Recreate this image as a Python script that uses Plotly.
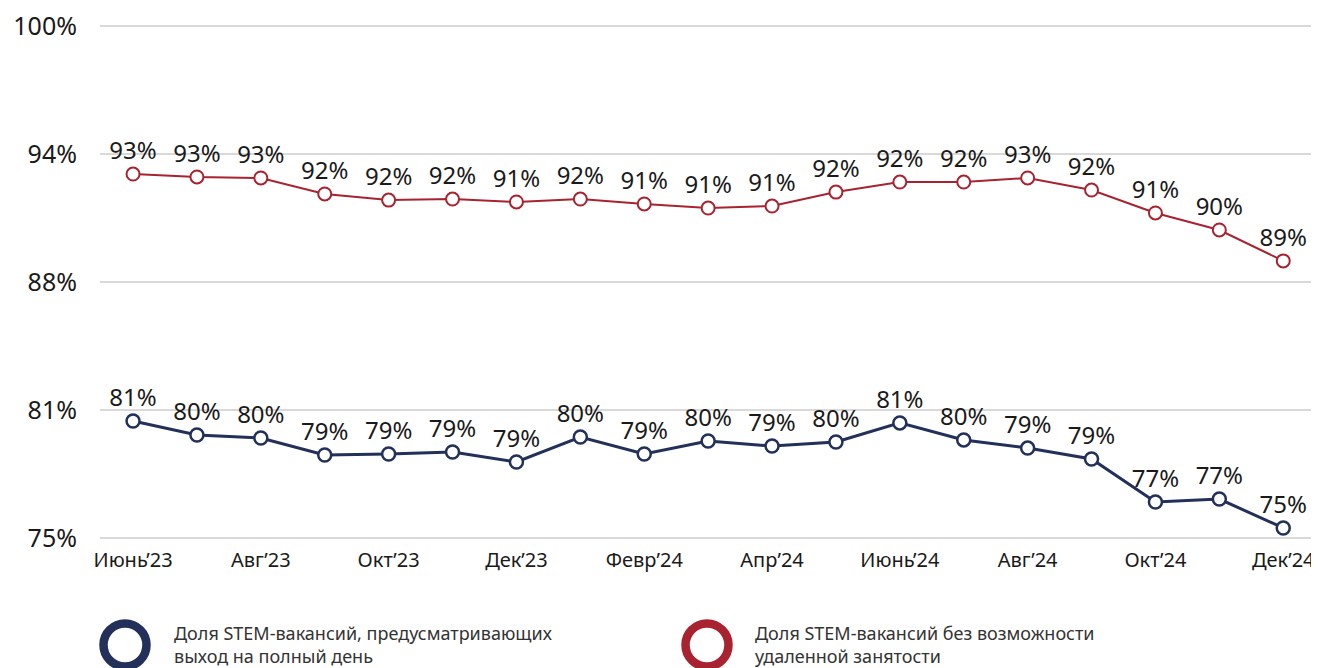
import plotly.graph_objects as go

months = ["Июнь’23", "Июль’23", "Авг’23", "Сент’23", "Окт’23", "Нояб’23", "Дек’23",
          "Янв’24", "Февр’24", "Март’24", "Апр’24", "Май’24", "Июнь’24", "Июль’24",
          "Авг’24", "Сент’24", "Окт’24", "Нояб’24", "Дек’24"]

no_remote = [92.77, 92.63, 92.58, 91.80, 91.50, 91.55, 91.41, 91.55, 91.31, 91.11,
             91.21, 91.89, 92.38, 92.38, 92.58, 91.99, 90.87, 90.04, 88.53]
no_remote_labels = ["93%", "93%", "93%", "92%", "92%", "92%", "91%", "92%", "91%", "91%",
                    "91%", "92%", "92%", "92%", "93%", "92%", "91%", "90%", "89%"]

full_day = [80.71, 80.03, 79.88, 79.05, 79.10, 79.20, 78.71, 79.93, 79.10, 79.74,
            79.49, 79.69, 80.62, 79.79, 79.39, 78.86, 76.76, 76.90, 75.49]
full_day_labels = ["81%", "80%", "80%", "79%", "79%", "79%", "79%", "80%", "79%", "80%",
                   "79%", "80%", "81%", "80%", "79%", "79%", "77%", "77%", "75%"]

y_ticks = [75, 81.25, 87.5, 93.75, 100]
y_tick_text = ["75%", "81%", "88%", "94%", "100%"]

legend_names = ["Доля STEM-вакансий, предусматривающих<br>выход на полный день",
                "Доля STEM-вакансий без возможности<br>удаленной занятости"]

NAVY = "#22305a"
RED = "#a8232f"
FONT = "Noto Sans"

x_idx = list(range(len(months)))

fig = go.Figure()
fig.add_trace(go.Scatter(
    x=x_idx, y=no_remote, mode="lines+markers+text",
    text=no_remote_labels, textposition="top center",
    textfont=dict(family=FONT, size=24, color="#1a1a1a"),
    line=dict(color=RED, width=2),
    marker=dict(size=13, color="white", line=dict(color=RED, width=2)),
    showlegend=False, cliponaxis=False,
))
fig.add_trace(go.Scatter(
    x=x_idx, y=full_day, mode="lines+markers+text",
    text=full_day_labels, textposition="top center",
    textfont=dict(family=FONT, size=24, color="#1a1a1a"),
    line=dict(color=NAVY, width=3),
    marker=dict(size=13, color="white", line=dict(color=NAVY, width=2.5)),
    showlegend=False, cliponaxis=False,
))

# page body has an 8px offset; figure pixel = screen pixel - 8
OFF = 8
W, H = 1311, 660
L, T, B = 92, 16, 128
R = W - (1312 - OFF)
pw, ph = W - L - R, H - T - B

def px_x(p):
    return (p - OFF - L) / pw

def px_y(p):
    return (H - B - (p - OFF)) / ph

shapes = []
annotations = []
for cx, color, name, tx in [(125, NAVY, legend_names[0], 172), (707, RED, legend_names[1], 753)]:
    r = 21.5
    shapes.append(dict(type="circle", xref="paper", yref="paper",
                       x0=px_x(cx - r), x1=px_x(cx + r), y0=px_y(645 + r), y1=px_y(645 - r),
                       line=dict(color=color, width=8.5), fillcolor="rgba(0,0,0,0)"))
    annotations.append(dict(xref="paper", yref="paper", x=px_x(tx), y=px_y(644),
                            xanchor="left", yanchor="middle", align="left",
                            text=name, showarrow=False,
                            font=dict(family=FONT, size=18, color="#333333")))

fig.update_layout(
    width=W, height=H,
    margin=dict(l=L, r=R, t=T, b=B, autoexpand=False),
    plot_bgcolor="white", paper_bgcolor="white",
    font=dict(family=FONT, color="#1a1a1a"),
    xaxis=dict(range=[-0.517, 18.45], tickmode="array",
               tickvals=x_idx[::2], ticktext=months[::2],
               showgrid=False, zeroline=False, showline=False, automargin=False,
               ticklabeloverflow="allow",
               tickfont=dict(family=FONT, size=20, color="#1a1a1a"),
               ticks="outside", ticklen=2, tickcolor="rgba(0,0,0,0)"),
    yaxis=dict(range=[74.902, 100.098], tickmode="array", tickvals=y_ticks, ticktext=y_tick_text,
               showgrid=True, gridcolor="#d9d9d9", gridwidth=2, zeroline=False,
               showline=False, automargin=False, ticklabeloverflow="allow",
               tickfont=dict(family=FONT, size=25, color="#1a1a1a"),
               ticklabelstandoff=22),
    shapes=shapes, annotations=annotations,
)

fig.write_html("out.html")
